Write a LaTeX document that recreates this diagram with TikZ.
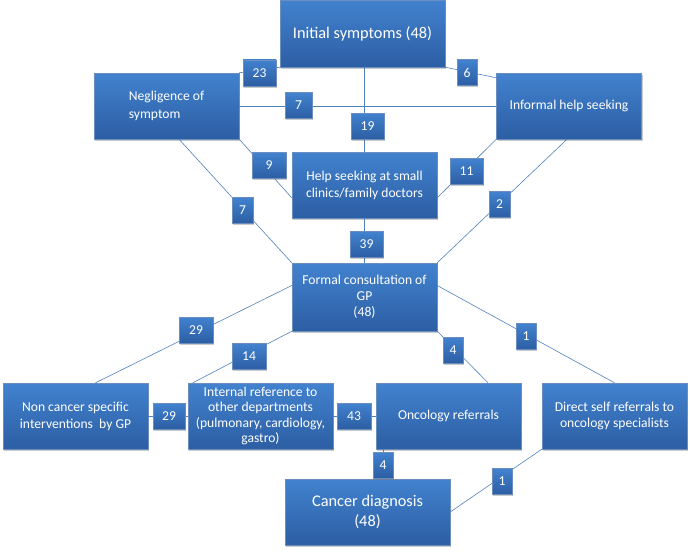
\documentclass[tikz,border=0pt]{standalone}
\usepackage{fontspec}
\setmainfont{Carlito}
\usetikzlibrary{shadows}
\definecolor{boxtop}{RGB}{66,130,207}
\definecolor{boxbot}{RGB}{44,94,163}
\definecolor{linkc}{RGB}{79,129,189}
\begin{document}
\begin{tikzpicture}[x=1pt,y=-1pt,
 box/.style={rectangle, top color=boxtop, bottom color=boxbot, draw=boxbot!70!white, line width=0.4pt,
   text=white, font=\fontsize{13.6}{16}\selectfont, align=center, inner sep=2pt,
   minimum width=145pt, minimum height=66pt,
   drop shadow={shadow xshift=1.2pt, shadow yshift=-1.5pt, opacity=0.35, fill=black!60}},
 bigbox/.style={box, font=\fontsize{16.3}{19.5}\selectfont, minimum width=165pt},
 lab/.style={box, font=\fontsize{13.6}{15}\selectfont, inner sep=0pt, minimum width=33pt, minimum height=26pt},
 slab/.style={lab, minimum width=20pt},
 link/.style={draw=linkc, line width=0.6pt}]
\useasboundingbox (0,0) rectangle (690,551);
% main boxes
\node[bigbox, minimum height=67pt] (init) at (362.5,33.5) {Initial symptoms (48)};
\node[box, align=left, font=\fontsize{13.6}{17.5}\selectfont] (negl) at (166.5,106) {Negligence of\\symptom};
\node[box] (inform) at (569,106) {Informal help seeking};
\node[box, font=\fontsize{13.6}{17}\selectfont] (help) at (364.5,185) {Help seeking at small\\clinics/family doctors};
\node[box, minimum height=68pt] (formal) at (364.5,297) {Formal consultation of\\GP\\(48)};
\node[box, font=\fontsize{13.6}{17}\selectfont] (noncan) at (75.5,416) {Non cancer specific\\interventions~~by GP};
\node[box, font=\fontsize{13.6}{15.5}\selectfont] (intern) at (260.5,416) {Internal reference to\\other departments\\(pulmonary, cardiology,\\gastro)};
\node[box] (onco) at (448.5,416) {Oncology referrals};
\node[box] (direct) at (614.5,416) {Direct self referrals to\\oncology specialists};
\node[bigbox] (cancer) at (367.5,512) {Cancer diagnosis\\(48)};
% connectors
\draw[link] (init.south west) -- (negl.north east);
\draw[link] (init.south east) -- ([yshift=-5pt]inform.north west);
\draw[link] ([xshift=1.5pt]init.south) -- ([xshift=1.5pt]init.south |- help.north);
\draw[link] (negl.east) -- (inform.west);
\draw[link] (negl.south east) -- (help.190);
\draw[link] ([xshift=12.5pt]negl.south) -- (formal.north west);
\draw[link] (inform.south west) -- (help.350);
\draw[link] ([xshift=-2pt]inform.south) -- (formal.north east);
\draw[link] ([xshift=-0.5pt]help.south) -- ([xshift=-0.5pt]help.south |- formal.north);
\draw[link] (formal.171) -- ([xshift=20pt]noncan.north);
\draw[link] (formal.south west) -- ([xshift=5pt]intern.north west);
\draw[link] (formal.south east) -- ([xshift=39.5pt]onco.north);
\draw[link] (formal.9) -- (direct.north);
\draw[link] (noncan.east) -- (intern.west);
\draw[link] (intern.east) -- (onco.west);
\draw[link] ([xshift=7pt]onco.south west) -- ([xshift=7pt]onco.south west |- cancer.north);
\draw[link] (direct.south west) -- (cancer.east);
% labels
\node[lab] (l23) at (259.5,73) {23};
\node[slab] (l6) at (467,72.5) {6};
\node[lab, minimum width=27pt] (l7a) at (298.5,105.5) {7};
\node[lab] (l19) at (367.5,126) {19};
\node[lab, minimum width=34pt] (l9) at (269,165.5) {9};
\node[slab, minimum width=21pt] (l7b) at (242.5,210.5) {7};
\node[lab] (l11) at (466.5,171.5) {11};
\node[slab, minimum width=21pt] (l2) at (499.5,204.5) {2};
\node[lab] (l39) at (366.5,244.5) {39};
\node[lab, minimum width=34pt] (l29a) at (196,330) {29};
\node[lab, minimum width=34pt] (l14) at (249,356.5) {14};
\node[slab] (l4a) at (453,350) {4};
\node[slab] (l1a) at (526,336.5) {1};
\node[lab, minimum width=32pt] (l29b) at (169,416) {29};
\node[lab, minimum width=34pt] (l43) at (354,416) {43};
\node[slab] (l4b) at (383,465) {4};
\node[slab] (l1b) at (502,481.5) {1};
\end{tikzpicture}
\end{document}
